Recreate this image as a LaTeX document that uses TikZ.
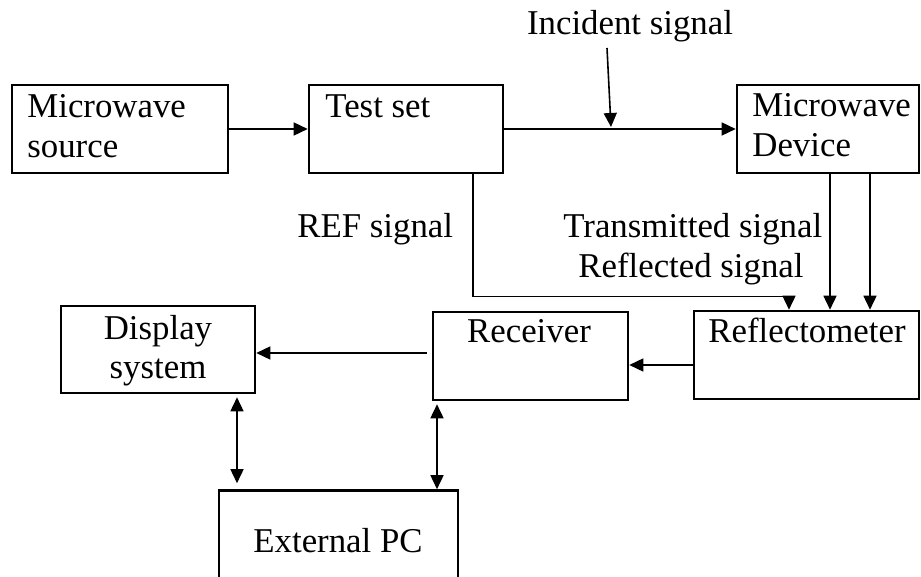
\documentclass[tikz,border=0pt]{standalone}
\usepackage{fontspec}
\setmainfont{Liberation Serif}
\usetikzlibrary{arrows.meta,positioning,calc}
\tikzset{
  blk/.style={draw=black,line width=1.3pt,inner sep=0pt},
  txt/.style={font=\fontsize{17.4}{20}\selectfont,inner sep=0pt},
  arr/.style={-{Triangle[length=7pt,width=6.5pt]},line width=0.8pt},
  darr/.style={{Triangle[length=7pt,width=6.5pt]}-{Triangle[length=7pt,width=6.5pt]},line width=0.8pt}
}

\begin{document}
\begin{tikzpicture}[x=0.5pt,y=-0.5pt]
  \useasboundingbox (0,0) rectangle (921,577);

  % blocks (centres in pixel units)
  \node[blk,minimum width=108pt,minimum height=44pt] (src) at (120,129) {};
  \node[blk,minimum width=97pt,minimum height=44pt] (test) at (406,129) {};
  \node[blk,minimum width=91pt,minimum height=44pt] (dev) at (828,129) {};
  \node[blk,minimum width=97pt,minimum height=43.5pt] (disp) at (158,349.5) {};
  \node[blk,minimum width=97.5pt,minimum height=44pt] (recv) at (530.5,356) {};
  \node[blk,minimum width=112.5pt,minimum height=44pt] (refl) at (806.5,355) {};
  \node[blk,minimum width=119.5pt,minimum height=50pt] (pc) at (338.5,540.5) {};

  % texts (base = last line)
  \node[txt,anchor=base west,align=left] (srcT) at (27,158) {Microwave\\source};
  \node[txt,anchor=base west] (testT) at (325,118) {Test set};
  \node[txt,anchor=base west,align=left] (devT) at (752,157) {Microwave\\Device};
  \node[txt,anchor=base] (incT) at (630,35) {Incident signal};
  \node[txt,anchor=base west] (refT) at (297,238) {REF signal};
  \node[txt,anchor=base west] (trT) at (563,238) {Transmitted signal};
  \node[txt,anchor=base west] (rfT) at (578,278) {Reflected signal};
  \node[txt,anchor=base,align=center] (dispT) at (158,379) {Display\\system};
  \node[txt,anchor=base] (recvT) at (529,343) {Receiver};
  \node[txt,anchor=base] (reflT) at (807,343) {Reflectometer};
  \node[txt,anchor=base] (pcT) at (338,552) {External PC};

  \coordinate (incA) at (607,48);
  \coordinate (incB) at (611,127);

  % connectors
  \draw[arr] (src) -- (test);
  \draw[arr] (test) -- (dev);
  \draw[arr] (incA) -- (incB);
  \draw[arr] ([xshift=1pt]dev.south) -- ([xshift=1pt]dev.south |- refl.north);
  \draw[arr] ([xshift=21pt]dev.south) -- ([xshift=21pt]dev.south |- refl.north);
  \draw[arr] ([xshift=33.5pt]test.south) |- ([xshift=-8.75pt,yshift=6.5pt]refl.north)
    -- ([xshift=-8.75pt]refl.north);
  \draw[arr] ([yshift=-5pt]refl.west) -- ([yshift=-5pt]refl.west -| recv.east);
  \draw[arr] ([xshift=-2.5pt,yshift=1.5pt]recv.west) -- ([yshift=1.5pt]recv.west -| disp.east);
  \draw[darr,shorten <=1.5pt,shorten >=3pt] ([xshift=39.5pt]disp.south)
    -- ([xshift=39.5pt]disp.south |- pc.north);
  \draw[darr,shorten <=1.5pt] ([xshift=-46.75pt]recv.south)
    -- ([xshift=-46.75pt]recv.south |- pc.north);
\end{tikzpicture}
\end{document}
